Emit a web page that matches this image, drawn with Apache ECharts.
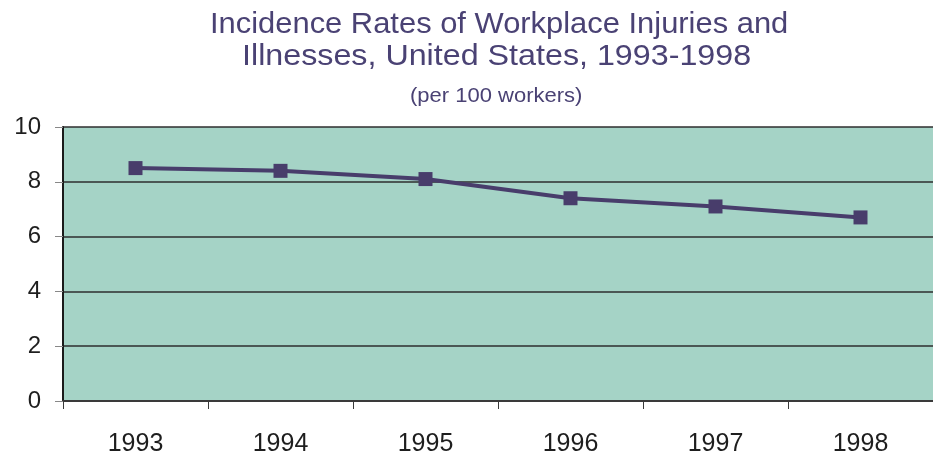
<!DOCTYPE html>
<html>
<head>
<meta charset="utf-8">
<script src="https://cdn.jsdelivr.net/npm/echarts@6/dist/echarts.min.js"></script>
<style>
  html, body { margin: 0; padding: 0; background: #ffffff; }
  #chart { width: 933px; height: 457px; }
</style>
</head>
<body>
<div id="chart"></div>
<script>
// Data
const years = ['1993', '1994', '1995', '1996', '1997', '1998'];
const rates = [8.5, 8.4, 8.1, 7.4, 7.1, 6.7];
const yTicks = [0, 2, 4, 6, 8, 10];

const titleLines = ['Incidence Rates of Workplace Injuries and', 'Illnesses, United States, 1993-1998'];
const subtitle = '(per 100 workers)';

const colors = {
  title: '#4a4274',
  plotBg: '#a5d3c6',
  line: '#483d6b',
  grid: '#2e2e2e',
  label: '#1e1e1e'
};

const FONT = '"Liberation Sans", Arial, sans-serif';

const chart = echarts.init(document.getElementById('chart'));

// the title is letter-spaced in the original, so stretch each line a bit
chart.setOption({
  backgroundColor: '#ffffff',
  animation: false,
  graphic: [
    {
      type: 'text', x: 210, y: 10, scaleX: 1.03,
      style: { text: titleLines[0], fill: colors.title, font: '30px ' + FONT, verticalAlign: 'top' }
    },
    {
      type: 'text', x: 242, y: 42, scaleX: 1.075,
      style: { text: titleLines[1], fill: colors.title, font: '30px ' + FONT, verticalAlign: 'top' }
    },
    {
      type: 'text', x: 410, y: 86, scaleX: 1.1,
      style: { text: subtitle, fill: colors.title, font: '20px ' + FONT, verticalAlign: 'top' }
    }
  ],
  grid: {
    left: 63, right: -6, top: 127, bottom: 55,
    show: true,
    backgroundColor: colors.plotBg,
    borderWidth: 0
  },
  xAxis: {
    type: 'category',
    data: years,
    boundaryGap: true,
    axisLine: { lineStyle: { color: '#3a3a3a', width: 2 } },
    axisTick: { show: true, length: 8, lineStyle: { color: '#3a3a3a' } },
    axisLabel: { color: colors.label, fontSize: 25, margin: 31, fontFamily: FONT }
  },
  yAxis: {
    type: 'value',
    min: yTicks[0],
    max: yTicks[yTicks.length - 1],
    interval: 2,
    axisLine: { show: true, lineStyle: { color: '#1a1a1a', width: 2 } },
    axisTick: { show: true, length: 8, lineStyle: { color: '#888888' } },
    axisLabel: { color: colors.label, fontSize: 24, margin: 22, fontFamily: FONT },
    splitLine: { show: true, lineStyle: { color: colors.grid, width: 1.5 } }
  },
  series: [{
    type: 'line',
    data: rates,
    symbol: 'rect',
    symbolSize: 14,
    lineStyle: { color: colors.line, width: 4 },
    itemStyle: { color: colors.line }
  }]
});
</script>
</body>
</html>
